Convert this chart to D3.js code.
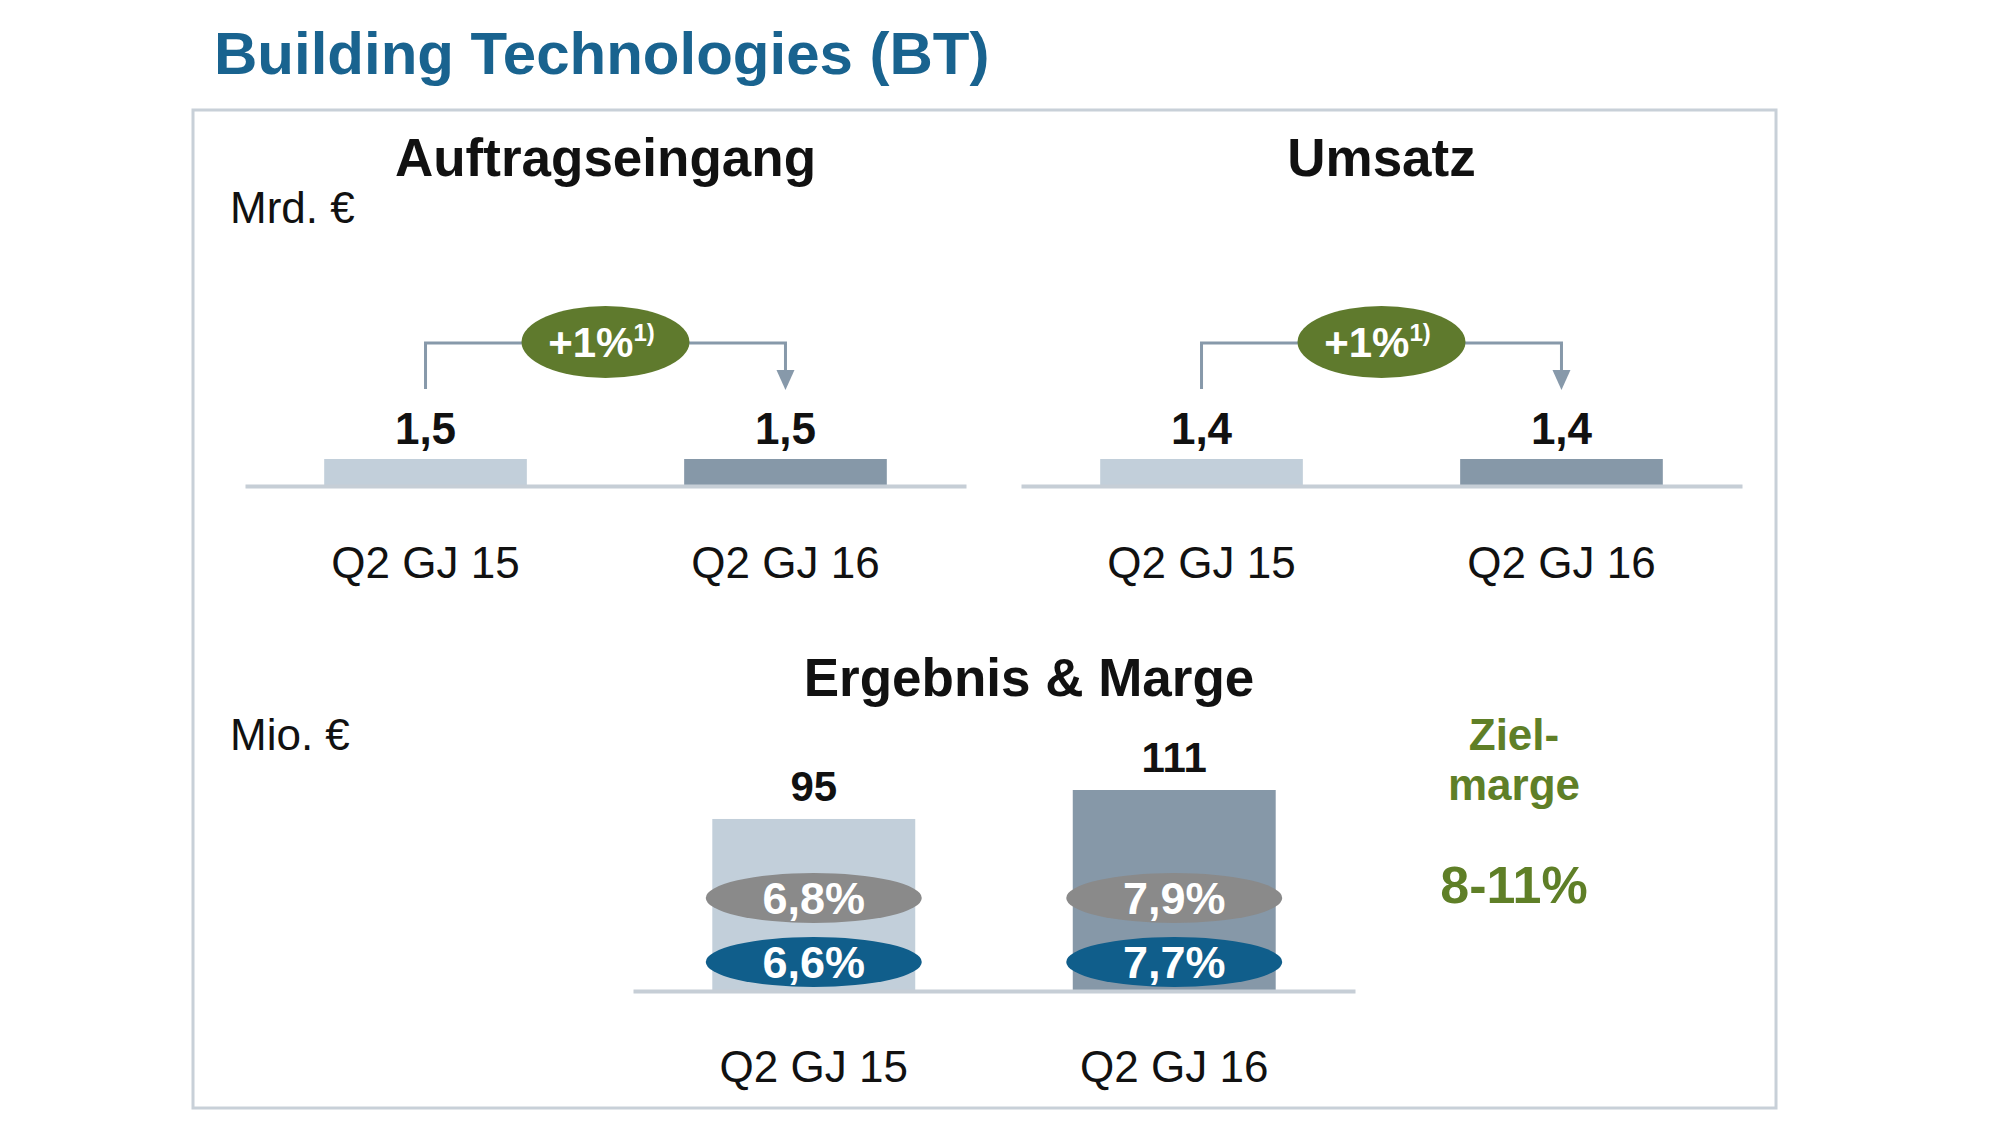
<!DOCTYPE html>
<html>
<head>
<meta charset="utf-8">
<script src="https://cdn.jsdelivr.net/npm/d3@7"></script>
<style>
  body { margin: 0; background: #fff; }
  svg text { font-family: "Liberation Sans", Arial, sans-serif; }
</style>
</head>
<body>
<svg id="chart" width="2000" height="1125"></svg>
<script>
// data
var categories = ["Q2 GJ 15", "Q2 GJ 16"];
var orderValues = [1.5, 1.5];      // Auftragseingang, Mrd. €
var revenueValues = [1.4, 1.4];    // Umsatz, Mrd. €
var orderGrowth = "+1%";
var revenueGrowth = "+1%";
var profitValues = [95, 111];      // Ergebnis, Mio. €
var marginGray = [6.8, 7.9];       // upper oval
var marginBlue = [6.6, 7.7];       // lower oval
var targetMargin = "8-11%";

var de = d3.formatLocale({decimal: ",", thousands: ".", grouping: [3], currency: ["", " €"]});
var fmt1 = de.format(".1f");
var fmt0 = de.format("d");

var lightBar = "#c2cfda", darkBar = "#8698a8";
var lineCol = "#c6ced6", bracketCol = "#8799aa";
var green = "#5f7a2d", textGreen = "#5f7f27";

var svg = d3.select("#chart");

// frame
svg.append("rect")
  .attr("x", 193).attr("y", 110)
  .attr("width", 1583).attr("height", 998)
  .attr("fill", "none")
  .attr("stroke", "#c8d0d8")
  .attr("stroke-width", 3);

svg.append("text")
  .attr("x", 214).attr("y", 74)
  .attr("fill", "#19638f")
  .style("font-size", "60px")
  .style("font-weight", "bold")
  .text("Building Technologies (BT)");

// small panel: thin bars + growth bracket
function smallPanel(x0, title, values, growth) {
  var axisY = 486;
  var xScale = d3.scaleBand()
    .domain(categories)
    .range([x0, x0 + 721])
    .paddingInner(0.437)
    .paddingOuter(0.22);
  var yScale = d3.scaleLinear()
    .domain([0, d3.max(values)])
    .range([axisY, axisY - 27]);

  var mid = (xScale(categories[0]) + xScale(categories[1]) + xScale.bandwidth()) / 2;

  svg.append("text")
    .attr("x", mid).attr("y", 176)
    .attr("text-anchor", "middle")
    .style("font-size", "53px").style("font-weight", "bold")
    .attr("fill", "#111")
    .text(title);

  svg.append("g").selectAll("rect")
    .data(values)
    .enter()
    .append("rect")
      .attr("x", (d, i) => xScale(categories[i]))
      .attr("y", d => yScale(d))
      .attr("width", xScale.bandwidth())
      .attr("height", d => axisY - yScale(d))
      .attr("fill", (d, i) => i == 0 ? lightBar : darkBar);

  svg.append("g").selectAll("text")
    .data(values)
    .enter()
    .append("text")
      .attr("x", (d, i) => xScale(categories[i]) + xScale.bandwidth() / 2)
      .attr("y", d => yScale(d) - 15)
      .attr("text-anchor", "middle")
      .style("font-size", "44px").style("font-weight", "bold")
      .attr("fill", "#111")
      .text(d => fmt1(d));

  var xAxis = d3.axisBottom(xScale).tickSize(0).tickPadding(61).tickSizeOuter(0);
  var ax = svg.append("g")
    .attr("transform", "translate(0," + axisY + ")")
    .call(xAxis);
  ax.select(".domain").attr("stroke", lineCol).attr("stroke-width", 4);
  ax.selectAll("text")
    .style("font-size", "44px")
    .style("font-family", '"Liberation Sans", Arial, sans-serif')
    .attr("fill", "#111");

  // bracket from first bar to second bar
  var c1 = xScale(categories[0]) + xScale.bandwidth() / 2;
  var c2 = xScale(categories[1]) + xScale.bandwidth() / 2;
  var topY = axisY - 143;
  svg.append("path")
    .attr("d", d3.line()([[c1, axisY - 97], [c1, topY], [c2, topY], [c2, axisY - 114]]))
    .attr("fill", "none")
    .attr("stroke", bracketCol)
    .attr("stroke-width", 3);
  svg.append("path")
    .attr("d", d3.line()([[c2 - 9, axisY - 116], [c2 + 9, axisY - 116], [c2, axisY - 96]]) + "Z")
    .attr("fill", bracketCol);

  svg.append("ellipse")
    .attr("cx", mid).attr("cy", topY - 1)
    .attr("rx", 84).attr("ry", 36)
    .attr("fill", green);
  var gt = svg.append("text")
    .attr("x", mid - 4).attr("y", topY + 14)
    .attr("text-anchor", "middle")
    .attr("fill", "#fff")
    .style("font-weight", "bold");
  gt.append("tspan").style("font-size", "42px").text(growth);
  gt.append("tspan").style("font-size", "24px").attr("dy", -16).text("1)");
}

smallPanel(245, "Auftragseingang", orderValues, orderGrowth);
smallPanel(1021, "Umsatz", revenueValues, revenueGrowth);

svg.append("text")
  .attr("x", 230).attr("y", 223)
  .style("font-size", "44px").attr("fill", "#111")
  .text("Mrd. €");

// profit & margin panel
var pAxisY = 991;
var px = d3.scaleBand()
  .domain(categories)
  .range([633, 1355])
  .paddingInner(0.437)
  .paddingOuter(0.22);
var py = d3.scaleLinear()
  .domain([0, d3.max(profitValues)])
  .range([pAxisY, pAxisY - 201]);

svg.append("text")
  .attr("x", 1029).attr("y", 696)
  .attr("text-anchor", "middle")
  .style("font-size", "53px").style("font-weight", "bold")
  .attr("fill", "#111")
  .text("Ergebnis & Marge");

svg.append("text")
  .attr("x", 230).attr("y", 750)
  .style("font-size", "44px").attr("fill", "#111")
  .text("Mio. €");

svg.append("g").selectAll("rect")
  .data(profitValues)
  .enter()
  .append("rect")
    .attr("x", (d, i) => px(categories[i]))
    .attr("y", d => py(d))
    .attr("width", px.bandwidth())
    .attr("height", d => pAxisY - py(d))
    .attr("fill", (d, i) => i == 0 ? lightBar : darkBar);

svg.append("g").selectAll("text")
  .data(profitValues)
  .enter()
  .append("text")
    .attr("x", (d, i) => px(categories[i]) + px.bandwidth() / 2)
    .attr("y", d => py(d) - 18)
    .attr("text-anchor", "middle")
    .style("font-size", "42px").style("font-weight", "bold")
    .attr("fill", "#111")
    .text(d => fmt0(d));

var pAxis = svg.append("g")
  .attr("transform", "translate(0," + pAxisY + ")")
  .call(d3.axisBottom(px).tickSize(0).tickPadding(60).tickSizeOuter(0));
pAxis.select(".domain").attr("stroke", lineCol).attr("stroke-width", 4);
pAxis.selectAll("text")
  .style("font-size", "44px")
  .style("font-family", '"Liberation Sans", Arial, sans-serif')
  .attr("fill", "#111");

// margin ovals
function ovals(values, cy, col) {
  var g = svg.append("g");
  g.selectAll("ellipse")
    .data(values)
    .enter()
    .append("ellipse")
      .attr("cx", (d, i) => px(categories[i]) + px.bandwidth() / 2)
      .attr("cy", cy)
      .attr("rx", 108).attr("ry", 25)
      .attr("fill", col);
  g.selectAll("text")
    .data(values)
    .enter()
    .append("text")
      .attr("x", (d, i) => px(categories[i]) + px.bandwidth() / 2)
      .attr("y", cy + 16)
      .attr("text-anchor", "middle")
      .style("font-size", "45px").style("font-weight", "bold")
      .attr("fill", "#fff")
      .text(d => fmt1(d) + "%");
}
ovals(marginGray, pAxisY - 93, "#8a8a8a");
ovals(marginBlue, pAxisY - 29, "#105e8b");

// target margin
var tg = svg.append("g").attr("fill", textGreen).style("font-weight", "bold").attr("text-anchor", "middle");
tg.append("text").attr("x", 1514).attr("y", 750).style("font-size", "44px").text("Ziel-");
tg.append("text").attr("x", 1514).attr("y", 800).style("font-size", "44px").text("marge");
tg.append("text").attr("x", 1514).attr("y", 903).style("font-size", "52px").text(targetMargin);
</script>
</body>
</html>
